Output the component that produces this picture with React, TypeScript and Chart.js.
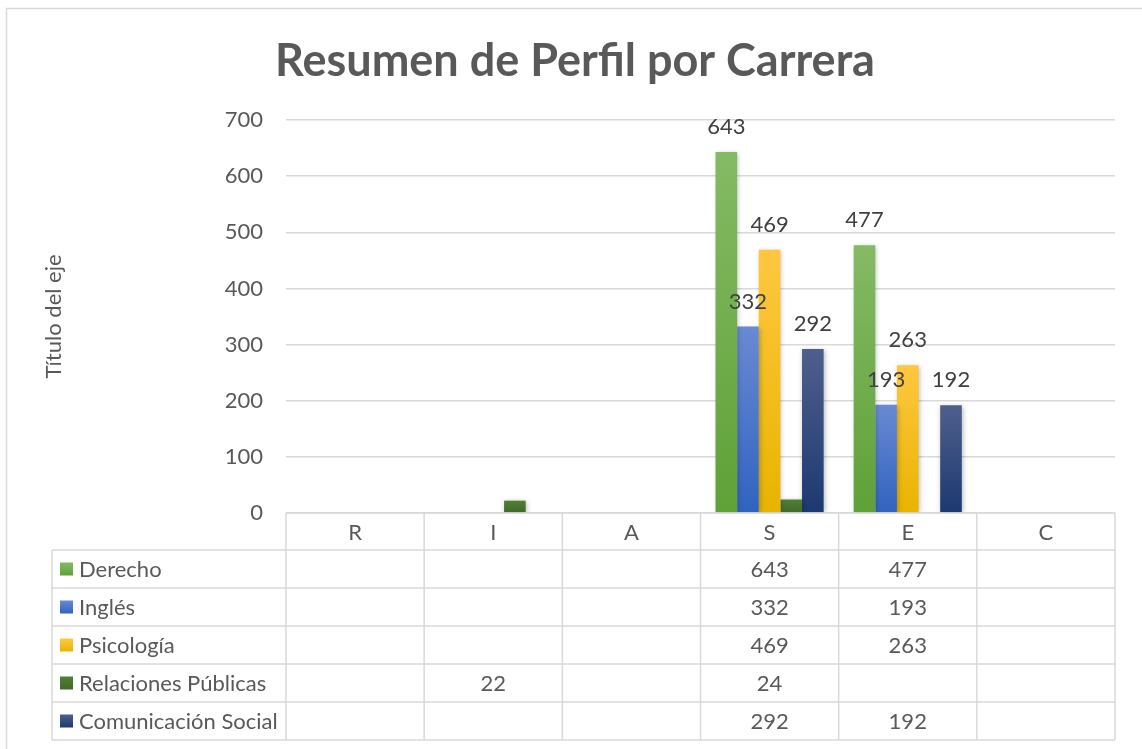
import { useEffect, useRef } from 'react';
import { Chart, registerables } from 'chart.js';

Chart.register(...registerables);

const chartTitle = 'Resumen de Perfil por Carrera';
const yAxisTitle = 'Título del eje';
const categories = ['R', 'I', 'A', 'S', 'E', 'C'];
const seriesNames = ['Derecho', 'Inglés', 'Psicología', 'Relaciones Públicas', 'Comunicación Social'];
const derecho = [null, null, null, 643, 477, null];
const ingles = [null, null, null, 332, 193, null];
const psicologia = [null, null, null, 469, 263, null];
const relacionesPublicas = [null, 22, null, 24, null, null];
const comunicacionSocial = [null, null, null, 292, 192, null];
const yMin = 0;
const yMax = 700;
const yStep = 100;

const seriesValues = [derecho, ingles, psicologia, relacionesPublicas, comunicacionSocial];
const colorTop = ['#84BA64', '#6A8AD2', '#FFC740', '#517F36', '#4F5F8C'];
const colorBottom = ['#5FA137', '#3063BF', '#E8B400', '#3F6A27', '#1C3970'];
const colorMid = ['#70AD47', '#4472C4', '#FFC000', '#43682B', '#264478'];
const showValueLabel = [true, true, true, false, true];

const FONT = 'Lato, "Open Sans", sans-serif';
const TEXT = '#595959';
const LINE = '#d9d9d9';

function gradientFor(idx: number) {
  return (c: any) => {
    const chart = c.chart;
    const y = chart.scales && chart.scales.y;
    if (!y || c.type !== 'data' || c.raw == null) return colorMid[idx];
    const top = y.getPixelForValue(c.raw);
    const bottom = y.getPixelForValue(0);
    if (!isFinite(top) || !isFinite(bottom) || top === bottom) return colorMid[idx];
    const g = chart.ctx.createLinearGradient(0, top, 0, bottom);
    g.addColorStop(0, colorTop[idx]);
    g.addColorStop(1, colorBottom[idx]);
    return g;
  };
}

const frameAndTitle = {
  id: 'frameAndTitle',
  beforeDraw(chart: any) {
    const ctx = chart.ctx;
    ctx.save();
    ctx.fillStyle = '#ffffff';
    ctx.fillRect(0, 0, chart.width, chart.height);
    ctx.strokeStyle = LINE;
    ctx.lineWidth = 1.5;
    ctx.strokeRect(6.5, 8.5, chart.width + 20, chart.height + 20);
    ctx.fillStyle = TEXT;
    ctx.font = `bold 45px ${FONT}`;
    ctx.textAlign = 'center';
    ctx.textBaseline = 'alphabetic';
    const a = chart.chartArea;
    ctx.fillText(chartTitle, (chart.options.layout.padding.left + a.right) / 2, 76);
    ctx.restore();
  },
};

const shadowPlugin = {
  id: 'barShadow',
  beforeDatasetsDraw(chart: any) {
    const ctx = chart.ctx;
    ctx.save();
    ctx.shadowColor = 'rgba(0,0,0,0.28)';
    ctx.shadowBlur = 5;
    ctx.shadowOffsetX = 1;
    ctx.shadowOffsetY = 1;
  },
  afterDatasetsDraw(chart: any) {
    chart.ctx.restore();
  },
};

const labelsAndTable = {
  id: 'labelsAndTable',
  afterDraw(chart: any) {
    const ctx = chart.ctx;
    const a = chart.chartArea;
    const xs = chart.scales.x;
    ctx.save();

    // value labels above bars
    ctx.font = `22px ${FONT}`;
    ctx.fillStyle = '#404040';
    ctx.textAlign = 'center';
    ctx.textBaseline = 'alphabetic';
    chart.data.datasets.forEach((ds: any, di: number) => {
      if (!showValueLabel[di]) return;
      const meta = chart.getDatasetMeta(di);
      meta.data.forEach((el: any, i: number) => {
        const v = ds.data[i];
        if (v == null) return;
        ctx.fillText(String(v), el.x, el.y - 18);
      });
    });

    // data table
    const n = categories.length;
    const colW = (a.right - a.left) / n;
    const headerTop = a.bottom;
    const headerH = 37;
    const rowH = 38;
    const tableLeft = 52;
    const bodyTop = headerTop + headerH;
    const bodyBottom = bodyTop + rowH * seriesNames.length;
    const edges: number[] = [];
    for (let i = 0; i < n; i++) edges.push(xs.getPixelForValue(i) - colW / 2);
    edges.push(xs.getPixelForValue(n - 1) + colW / 2);

    ctx.strokeStyle = LINE;
    ctx.lineWidth = 1.5;
    ctx.beginPath();
    ctx.moveTo(edges[0], headerTop);
    ctx.lineTo(edges[n], headerTop);
    for (let r = 0; r <= seriesNames.length; r++) {
      const y = bodyTop + r * rowH;
      ctx.moveTo(tableLeft, y);
      ctx.lineTo(edges[n], y);
    }
    edges.forEach((x) => {
      ctx.moveTo(x, headerTop);
      ctx.lineTo(x, bodyBottom);
    });
    ctx.moveTo(tableLeft, bodyTop);
    ctx.lineTo(tableLeft, bodyBottom);
    ctx.stroke();

    ctx.font = `22px ${FONT}`;
    ctx.fillStyle = TEXT;
    ctx.textBaseline = 'middle';
    ctx.textAlign = 'center';
    categories.forEach((c, i) => {
      ctx.fillText(c, xs.getPixelForValue(i), headerTop + headerH / 2 + 1);
    });

    seriesNames.forEach((name, r) => {
      const cy = bodyTop + r * rowH + rowH / 2;
      const g = ctx.createLinearGradient(0, cy - 6.5, 0, cy + 6.5);
      g.addColorStop(0, colorTop[r]);
      g.addColorStop(1, colorBottom[r]);
      ctx.fillStyle = g;
      ctx.fillRect(60, cy - 6.5, 13, 13);
      ctx.fillStyle = TEXT;
      ctx.textAlign = 'left';
      ctx.fillText(name, 79, cy + 1);
      ctx.textAlign = 'center';
      seriesValues[r].forEach((v, i) => {
        if (v == null) return;
        ctx.fillText(String(v), xs.getPixelForValue(i), cy + 1);
      });
    });
    ctx.restore();
  },
};

export default function App() {
  const ref = useRef<HTMLCanvasElement | null>(null);

  useEffect(() => {
    if (!ref.current) return;
    const chart = new Chart(ref.current, {
      type: 'bar',
      data: {
        labels: categories,
        datasets: seriesNames.map((name, i) => ({
          label: name,
          data: seriesValues[i],
          backgroundColor: gradientFor(i),
          borderWidth: 0,
          categoryPercentage: 0.7826,
          barPercentage: 1,
        })),
      },
      options: {
        responsive: false,
        animation: false,
        layout: { padding: { left: 35, right: 27, top: 120, bottom: 236 } },
        plugins: {
          legend: { display: false },
          title: { display: false },
          tooltip: { enabled: false },
        },
        scales: {
          x: {
            display: false,
            offset: true,
            grid: { display: false },
          },
          y: {
            min: yMin,
            max: yMax,
            ticks: {
              stepSize: yStep,
              padding: 23,
              color: TEXT,
              font: { family: FONT, size: 22 },
            },
            grid: { color: LINE, lineWidth: 1.5, drawTicks: false },
            border: { display: false },
            title: {
              display: true,
              text: yAxisTitle,
              color: TEXT,
              font: { family: FONT, size: 22 },
              padding: { top: 6, bottom: 0 },
            },
            afterFit: (scale: any) => {
              scale.width = 251;
            },
          },
        },
      },
      plugins: [frameAndTitle, shadowPlugin, labelsAndTable],
    });
    return () => chart.destroy();
  }, []);

  return (
    <div style={{ position: 'fixed', left: 0, top: 0, width: 1142, height: 749, background: '#fff' }}>
      <canvas ref={ref} width={1142} height={749} style={{ display: 'block' }} />
    </div>
  );
}
